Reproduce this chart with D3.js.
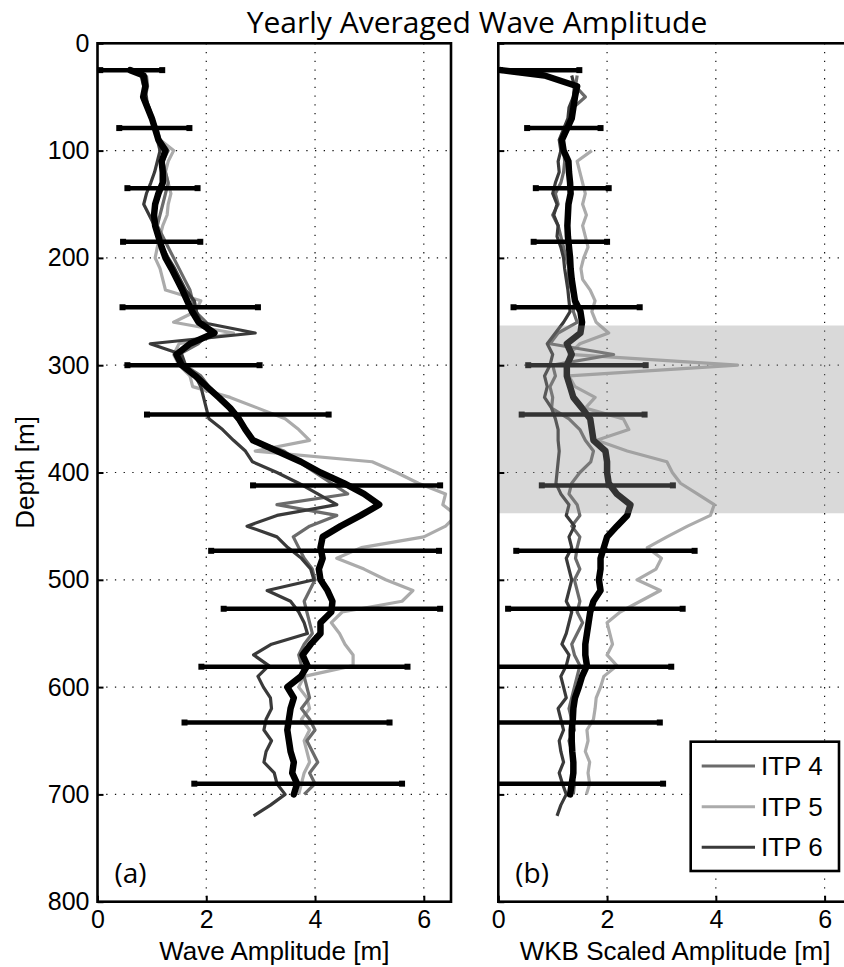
<!DOCTYPE html>
<html>
<head>
<meta charset="utf-8">
<script src="https://cdn.jsdelivr.net/npm/d3@7"></script>
<style>
  body { margin: 0; background: #fff; }
  svg text { font-family: "Liberation Sans", Arial, sans-serif; }
</style>
</head>
<body>
<div id="chart"></div>
<script>
// depth grid [m] shared by all profiles
var depth = [25, 30, 40, 50, 60, 70, 80, 90, 100, 110,
    120, 130, 140, 150, 160, 170, 180, 190, 200, 210,
    220, 230, 240, 250, 260, 270, 280, 290, 300, 310,
    320, 330, 340, 350, 360, 370, 380, 390, 400, 410,
    420, 430, 440, 450, 460, 470, 480, 490, 500, 510,
    520, 530, 540, 550, 560, 570, 580, 590, 600, 610,
    620, 630, 640, 650, 660, 670, 680, 690, 700, 710,
    720];

// panel (a) wave amplitude [m]
var aMean = [0.60, 0.85, 0.88, 0.84, 0.92, 1.00, 1.06, 1.12, 1.25, 1.18,
    1.20, 1.20, 1.12, 1.06, 1.04, 1.06, 1.12, 1.18, 1.25, 1.36,
    1.46, 1.56, 1.65, 1.74, 1.86, 2.15, 1.70, 1.45, 1.55, 1.80,
    2.01, 2.23, 2.44, 2.60, 2.72, 2.86, 3.30, 3.74, 4.10, 4.53,
    4.90, 5.18, 4.84, 4.47, 4.14, 4.10, 4.14, 4.07, 4.10, 4.23,
    4.32, 4.30, 4.10, 4.10, 3.92, 3.77, 3.86, 3.74, 3.49, 3.61,
    3.55, 3.52, 3.49, 3.52, 3.55, 3.61, 3.58, 3.67, 3.61, null,
    null];
var aItp4 = [null, 0.90, 0.92, 0.88, 0.95, 1.00, 1.10, 1.15, 1.30, 1.20,
    1.25, 1.30, 1.25, 1.20, 1.15, 1.10, 1.20, 1.30, 1.40, 1.50,
    1.60, 1.70, 1.75, 1.80, 2.00, 2.05, 1.85, 1.50, 1.60, 1.90,
    2.05, 2.20, 2.40, 2.57, 2.70, 2.85, 3.43, 3.70, 4.00, 4.30,
    4.60, 3.30, 4.40, 3.90, 3.60, 3.70, 3.80, 3.95, 4.00, 3.90,
    3.80, 3.85, 3.90, 3.95, 3.80, 3.70, 3.75, 3.80, 3.85, 3.90,
    3.75, 3.90, 4.00, 3.85, 3.95, 4.05, 3.90, 4.00, 3.80, null,
    null];
var aItp5 = [null, 0.85, 0.90, 0.86, 0.95, 1.02, 1.08, 1.15, 1.40, 1.30,
    1.25, 1.30, 1.35, 1.30, 1.28, 1.20, 1.15, 1.10, 1.06, 1.15,
    1.20, 1.25, 1.90, 1.80, 1.40, 2.50, 1.50, 1.40, 1.50, 1.70,
    1.75, 2.44, 2.95, 3.45, 3.70, 3.90, 2.90, 5.05, 5.50, 5.90,
    6.40, 6.35, 6.60, 6.40, 6.00, 4.85, 4.40, 4.90, 5.30, 5.80,
    5.60, 4.50, 4.30, 4.45, 4.55, 4.70, 4.70, 3.80, 3.70, 3.85,
    3.90, 3.75, 3.90, 3.80, 3.85, 3.90, 3.80, 3.75, 3.70, null,
    null];
var aItp6 = [null, 0.80, 0.85, 0.90, 0.92, 0.98, 1.05, 1.10, 1.15, 1.10,
    1.05, 0.98, 0.90, 0.85, 0.95, 1.05, 1.10, 1.20, 1.30, 1.42,
    1.52, 1.62, 1.78, 1.82, 1.90, 2.90, 0.97, 1.55, 1.62, 1.80,
    1.90, 1.95, 2.00, 2.05, 2.30, 2.50, 2.72, 2.85, 3.30, 3.70,
    4.05, 4.40, 3.30, 2.75, 3.30, 3.50, 3.75, 3.92, 3.98, 3.12,
    3.55, 3.70, 3.80, 3.86, 3.20, 2.87, 3.15, 2.95, 3.05, 3.18,
    3.20, 3.10, 3.06, 3.20, 3.10, 3.06, 3.25, 3.30, 3.45, 3.18,
    2.87];

// panel (b) WKB scaled amplitude [m]
var bMean = [0.05, 0.85, 1.45, 1.41, 1.38, 1.35, 1.26, 1.17, 1.20, 1.29,
    1.30, 1.32, 1.33, 1.29, 1.28, 1.27, 1.28, 1.30, 1.32, 1.33,
    1.35, 1.38, 1.41, 1.51, 1.54, 1.51, 1.26, 1.35, 1.26, 1.26,
    1.32, 1.38, 1.54, 1.69, 1.72, 1.75, 1.97, 2.00, 2.00, 2.03,
    2.18, 2.43, 2.37, 2.18, 2.00, 1.94, 1.88, 1.88, 1.85, 1.88,
    1.75, 1.69, 1.66, 1.63, 1.60, 1.60, 1.63, 1.54, 1.48, 1.41,
    1.38, 1.37, 1.35, 1.35, 1.36, 1.38, 1.38, 1.35, 1.32, null,
    null];
var bItp4 = [null, 1.45, 1.42, 1.60, 1.38, 1.33, 1.25, 1.18, 1.20, 1.22,
    1.20, 1.15, 1.05, 1.10, 1.00, 1.10, 1.15, 1.20, 1.25, 1.30,
    1.28, 1.35, 1.40, 1.38, 1.45, 1.10, 0.95, 2.12, 1.00, 1.05,
    0.95, 1.00, 0.98, 1.30, 1.50, 1.60, 1.75, 1.70, 1.50, 1.35,
    1.30, 1.45, 1.50, 1.35, 1.50, 1.45, 1.42, 1.50, 1.40, 1.45,
    1.50, 1.45, 1.55, 1.45, 1.35, 1.40, 1.50, 1.45, 1.40, 1.35,
    1.30, 1.35, 1.40, 1.30, 1.35, 1.40, 1.35, 1.40, 1.38, null,
    null];
var bItp5 = [null, null, null, null, null, null, null, null, 1.72, 1.45,
    1.50, 1.55, 1.60, 1.55, 1.62, 1.55, 1.60, 1.65, 1.57, 1.52,
    1.55, 1.69, 1.78, 1.72, 1.80, 2.03, 1.50, 1.30, 4.40, 1.30,
    1.41, 1.78, 1.60, 2.30, 2.40, 1.81, 2.37, 3.10, 3.20, 3.35,
    3.66, 3.97, 3.90, 3.48, 3.10, 2.74, 3.00, 2.90, 2.55, 2.98,
    2.61, 2.24, 2.00, 2.05, 2.10, 2.00, 2.18, 1.94, 1.88, 1.80,
    1.78, 1.75, 1.63, 1.65, 1.60, 1.68, 1.65, 1.68, 1.62, null,
    null];
var bItp6 = [null, 1.35, 1.40, 1.38, 1.30, 1.28, 1.20, 1.12, 1.15, 1.10,
    1.12, 1.05, 1.00, 1.08, 1.02, 1.10, 1.08, 1.15, 1.20, 1.22,
    1.25, 1.28, 1.30, 1.32, 1.20, 1.05, 0.90, 1.00, 0.95, 0.85,
    0.90, 0.85, 0.98, 1.05, 1.10, 1.10, 1.12, 1.10, 1.08, 1.06,
    1.15, 1.30, 1.25, 1.40, 1.30, 1.35, 1.25, 1.30, 1.35, 1.30,
    1.25, 1.35, 1.30, 1.25, 1.17, 1.30, 1.25, 1.15, 1.20, 1.25,
    1.10, 1.15, 1.20, 1.12, 1.15, 1.20, 1.12, 1.18, 1.25, 1.15,
    1.08];

// horizontal error bars
var barDepth = [25, 79, 135, 185, 246, 300, 346, 412, 473, 527, 581, 633, 690];
var aBarLo = [0.05, 0.40, 0.55, 0.47, 0.46, 0.55, 0.91, 2.86, 2.09, 2.32, 1.91, 1.60, 1.78];
var aBarHi = [1.19, 1.69, 1.84, 1.89, 2.95, 2.98, 4.25, 6.30, 6.28, 6.30, 5.70, 5.37, 5.60];
var bBarLo = [0.03, 0.53, 0.69, 0.65, 0.28, 0.55, 0.43, 0.80, 0.33, 0.18, -0.20, -0.30, -0.30];
var bBarHi = [1.49, 1.88, 2.03, 2.00, 2.60, 2.71, 2.69, 3.21, 3.61, 3.39, 3.18, 2.97, 3.03];

var xTicks = [0, 2, 4, 6];
var yTicks = [0, 100, 200, 300, 400, 500, 600, 700, 800];
var shadeBand = [263, 438];

var names = ["ITP 4", "ITP 5", "ITP 6"];
var colors = { "ITP 4": "#6b6b6b", "ITP 5": "#ababab", "ITP 6": "#3a3a3a" };

var svg = d3.select("#chart").append("svg")
    .attr("width", 844)
    .attr("height", 967);

var y = d3.scaleLinear().domain([0, 800]).range([43.3, 901.7]);

function profile(vals) {
    return depth.map(function (d, i) { return { d: d, v: vals[i] }; });
}

function drawPanel(id, left, right, series, mean, lo, hi, tag, xlab, showYLabels, shade) {
    var x = d3.scaleLinear().domain([0, 6.5]).range([left, right]);
    var top = y(0), bottom = y(800);

    var g = svg.append("g");

    svg.append("defs").append("clipPath").attr("id", "clip" + id)
        .append("rect")
        .attr("x", left).attr("y", top)
        .attr("width", right - left).attr("height", bottom - top);

    // dotted grid
    g.selectAll(".gx").data(xTicks.slice(1)).enter().append("line")
        .attr("x1", d => x(d)).attr("x2", d => x(d))
        .attr("y1", top).attr("y2", bottom)
        .attr("stroke", "#111").attr("stroke-width", 1.2)
        .attr("stroke-dasharray", "1.3,7.4");
    g.selectAll(".gy").data(yTicks.slice(1, -1)).enter().append("line")
        .attr("x1", left).attr("x2", right)
        .attr("y1", d => y(d)).attr("y2", d => y(d))
        .attr("stroke", "#111").attr("stroke-width", 1.2)
        .attr("stroke-dasharray", "1.3,7.4");

    var plot = g.append("g").attr("clip-path", "url(#clip" + id + ")");

    var line = d3.line()
        .defined(d => d.v != null)
        .x(d => x(d.v))
        .y(d => y(d.d));

    // light gray first so the darker floats sit on top
    ["ITP 5", "ITP 4", "ITP 6"].forEach(function (n) {
        plot.append("path")
            .datum(profile(series[n]))
            .attr("d", line)
            .attr("fill", "none")
            .attr("stroke", colors[n])
            .attr("stroke-width", 3.2)
            .attr("stroke-linejoin", "round");
    });

    plot.append("path")
        .datum(profile(mean))
        .attr("d", line)
        .attr("fill", "none")
        .attr("stroke", "#000")
        .attr("stroke-width", 6.5)
        .attr("stroke-linejoin", "round")
        .attr("stroke-linecap", "round");

    var bars = barDepth.map(function (d, i) { return { d: d, lo: lo[i], hi: hi[i] }; });
    plot.selectAll(".bar").data(bars).enter().append("line")
        .attr("x1", d => x(d.lo)).attr("x2", d => x(d.hi))
        .attr("y1", d => y(d.d)).attr("y2", d => y(d.d))
        .attr("stroke", "#000").attr("stroke-width", 4.5);
    var caps = [];
    bars.forEach(function (b) { caps.push({ d: b.d, v: b.lo }); caps.push({ d: b.d, v: b.hi }); });
    plot.selectAll(".cap").data(caps).enter().append("rect")
        .attr("x", d => x(d.v) - 3).attr("y", d => y(d.d) - 3)
        .attr("width", 6).attr("height", 6)
        .attr("fill", "#000");

    if (shade) {
        plot.append("rect")
            .attr("x", left).attr("width", right - left)
            .attr("y", y(shade[0])).attr("height", y(shade[1]) - y(shade[0]))
            .attr("fill", "#929292").attr("fill-opacity", 0.35);
    }

    // axes with inward ticks
    var yAxis = g.append("g")
        .attr("transform", "translate(" + left + ",0)")
        .call(d3.axisLeft(y).tickValues(yTicks).tickSize(-6).tickPadding(8)
            .tickFormat(showYLabels ? d3.format("d") : ""));
    var xAxis = g.append("g")
        .attr("transform", "translate(0," + bottom + ")")
        .call(d3.axisBottom(x).tickValues(xTicks).tickSize(-6).tickPadding(9)
            .tickFormat(d3.format("d")));
    [xAxis, yAxis].forEach(function (a) {
        a.attr("font-family", null).attr("font-size", null);
        a.select(".domain").remove();
        a.selectAll(".tick line").attr("stroke", "#000").attr("stroke-width", 2);
        a.selectAll("text").attr("fill", "#000")
            .style("font-size", "25px");
    });

    g.append("rect")
        .attr("x", left).attr("y", top)
        .attr("width", right - left).attr("height", bottom - top)
        .attr("fill", "none").attr("stroke", "#000").attr("stroke-width", 2.6);

    g.append("text")
        .attr("x", (left + right) / 2).attr("y", 960)
        .attr("text-anchor", "middle")
        .style("font-size", "26px")
        .text(xlab);

    g.append("text")
        .attr("x", left + 17).attr("y", 883)
        .style("font-family", "'Open Sans', sans-serif")
        .style("font-size", "28px")
        .text(tag);

    return x;
}

var seriesA = { "ITP 4": aItp4, "ITP 5": aItp5, "ITP 6": aItp6 };
var seriesB = { "ITP 4": bItp4, "ITP 5": bItp5, "ITP 6": bItp6 };

drawPanel("a", 97.5, 451, seriesA, aMean, aBarLo, aBarHi, "(a)", "Wave Amplitude [m]", true, null);
drawPanel("b", 498.3, 851.8, seriesB, bMean, bBarLo, bBarHi, "(b)", "WKB Scaled Amplitude [m]", false, shadeBand);

svg.append("text")
    .attr("transform", "translate(34," + ((y(0) + y(800)) / 2) + ") rotate(-90)")
    .attr("text-anchor", "middle")
    .style("font-size", "26px")
    .text("Depth [m]");

svg.append("text")
    .attr("x", 477).attr("y", 33)
    .attr("text-anchor", "middle")
    .style("font-family", "'Open Sans', sans-serif")
    .style("font-size", "30px")
    .text("Yearly Averaged Wave Amplitude");

// legend
var legend = svg.append("g");
legend.append("rect")
    .attr("x", 690.7).attr("y", 741.7)
    .attr("width", 148.3).attr("height", 129.3)
    .attr("fill", "#fff").attr("stroke", "#000").attr("stroke-width", 2.6);
var ly = d3.scalePoint().domain(names).range([766, 847.3]);
legend.selectAll(".ll").data(names).enter().append("line")
    .attr("x1", 701.7).attr("x2", 755)
    .attr("y1", d => ly(d)).attr("y2", d => ly(d))
    .attr("stroke", d => colors[d]).attr("stroke-width", 3);
legend.selectAll(".lt").data(names).enter().append("text")
    .attr("x", 761).attr("y", d => ly(d) + 9)
    .style("font-size", "26px")
    .text(d => d);
</script>
</body>
</html>
